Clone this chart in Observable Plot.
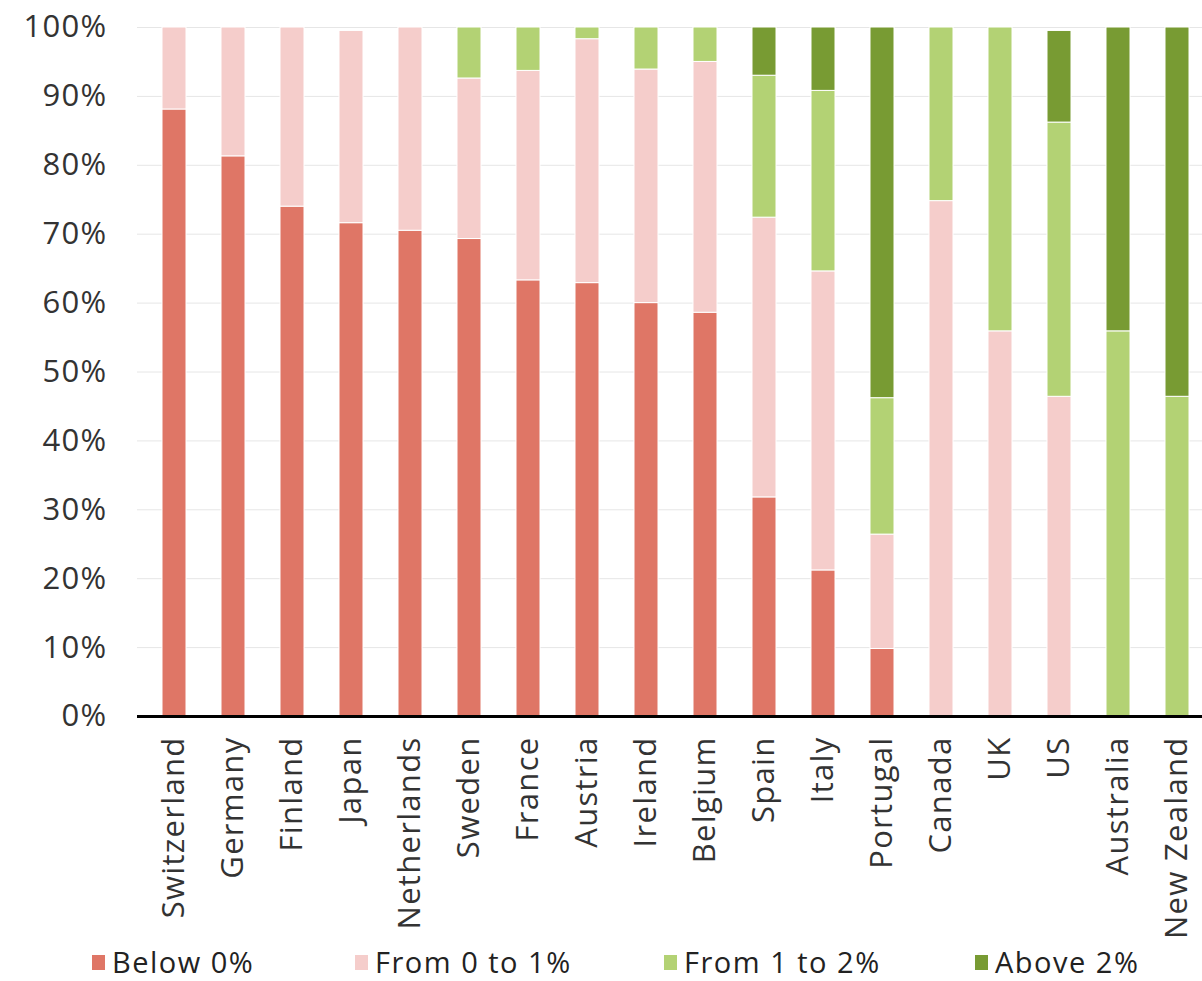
<!DOCTYPE html>
<html><head><meta charset="utf-8">
<script src="https://cdn.jsdelivr.net/npm/d3@7"></script>
<script src="https://cdn.jsdelivr.net/npm/@observablehq/plot@0.6"></script>
<style>
html,body{margin:0;padding:0;background:#fff;overflow:hidden;}
#chart{position:relative;width:1202px;height:981px;font-family:"Open Sans",sans-serif;}
#chart svg{display:block;position:absolute;top:0;left:0;}
.legend{position:absolute;top:943px;left:0;width:1202px;height:38px;}
.li{position:absolute;top:0;display:flex;align-items:center;height:38px;line-height:38px;font-size:29px;letter-spacing:1.5px;color:#222;white-space:nowrap;}
.sw{width:13px;height:15px;margin-right:7px;flex:none;}
</style></head><body><div id="chart"></div><script>
const countries = ["Switzerland","Germany","Finland","Japan","Netherlands","Sweden","France","Austria","Ireland","Belgium","Spain","Italy","Portugal","Canada","UK","US","Australia","New Zealand"];
const series = ["Below 0%","From 0 to 1%","From 1 to 2%","Above 2%"];
const colors = ["#df7666","#f5cdcb","#b3d274","#789b33"];
const below0   = [88.1,81.3,74.0,71.6,70.5,69.3,63.3,62.9,60.0,58.6,31.8,21.2,9.8,0,0,0,0,0];
const from0to1 = [11.9,18.7,26.0,27.9,29.5,23.3,30.4,35.4,33.9,36.4,40.6,43.4,16.6,74.8,55.9,46.4,0,0];
const from1to2 = [0,0,0,0,0,7.4,6.3,1.7,6.1,5.0,20.6,26.2,19.8,25.2,44.1,39.8,55.9,46.4];
const above2   = [0,0,0,0,0,0,0,0,0,0,7.0,9.2,53.8,0,0,13.3,44.1,53.6];
const yTicks = [0,10,20,30,40,50,60,70,80,90,100];
const legendX = [92,355,664,975];

const seriesValues = [below0, from0to1, from1to2, above2];
const data = [];
seriesValues.forEach((vals, si) => {
  vals.forEach((v, ci) => {
    if (v > 0) data.push({country: countries[ci], series: series[si], value: v});
  });
});

const fontFamily = '"Open Sans", sans-serif';
const chart = Plot.plot({
  width: 1202,
  height: 943,
  marginTop: 27,
  marginBottom: 227,
  marginLeft: 137,
  marginRight: 0,
  style: {fontFamily, fontSize: "31px", letterSpacing: "1.3px", color: "#333", background: "transparent"},
  x: {domain: countries, range: [137, 1213], paddingInner: 0.6, paddingOuter: 0.3, label: null, tickRotate: -90, tickSize: 0, tickPadding: 20},
  y: {domain: [0, 100], ticks: yTicks, tickFormat: d => d + "%", label: null, tickSize: 0, tickPadding: 30},
  color: {domain: series, range: colors},
  marks: [
    Plot.gridY(yTicks, {stroke: "#e6e6e6", strokeOpacity: 1}),
    Plot.barY(data, {x: "country", y: "value", fill: "series", stroke: "#fff", strokeWidth: 1}),
    Plot.ruleY([0], {stroke: "#000", strokeWidth: 3})
  ]
});
const root = document.getElementById("chart");
root.appendChild(chart);

const legend = document.createElement("div");
legend.className = "legend";
series.forEach((s, i) => {
  const item = document.createElement("div");
  item.className = "li";
  item.style.left = legendX[i] + "px";
  const sw = document.createElement("span");
  sw.className = "sw";
  sw.style.background = colors[i];
  const t = document.createElement("span");
  t.textContent = s;
  item.appendChild(sw);
  item.appendChild(t);
  legend.appendChild(item);
});
root.appendChild(legend);
</script></body></html>
